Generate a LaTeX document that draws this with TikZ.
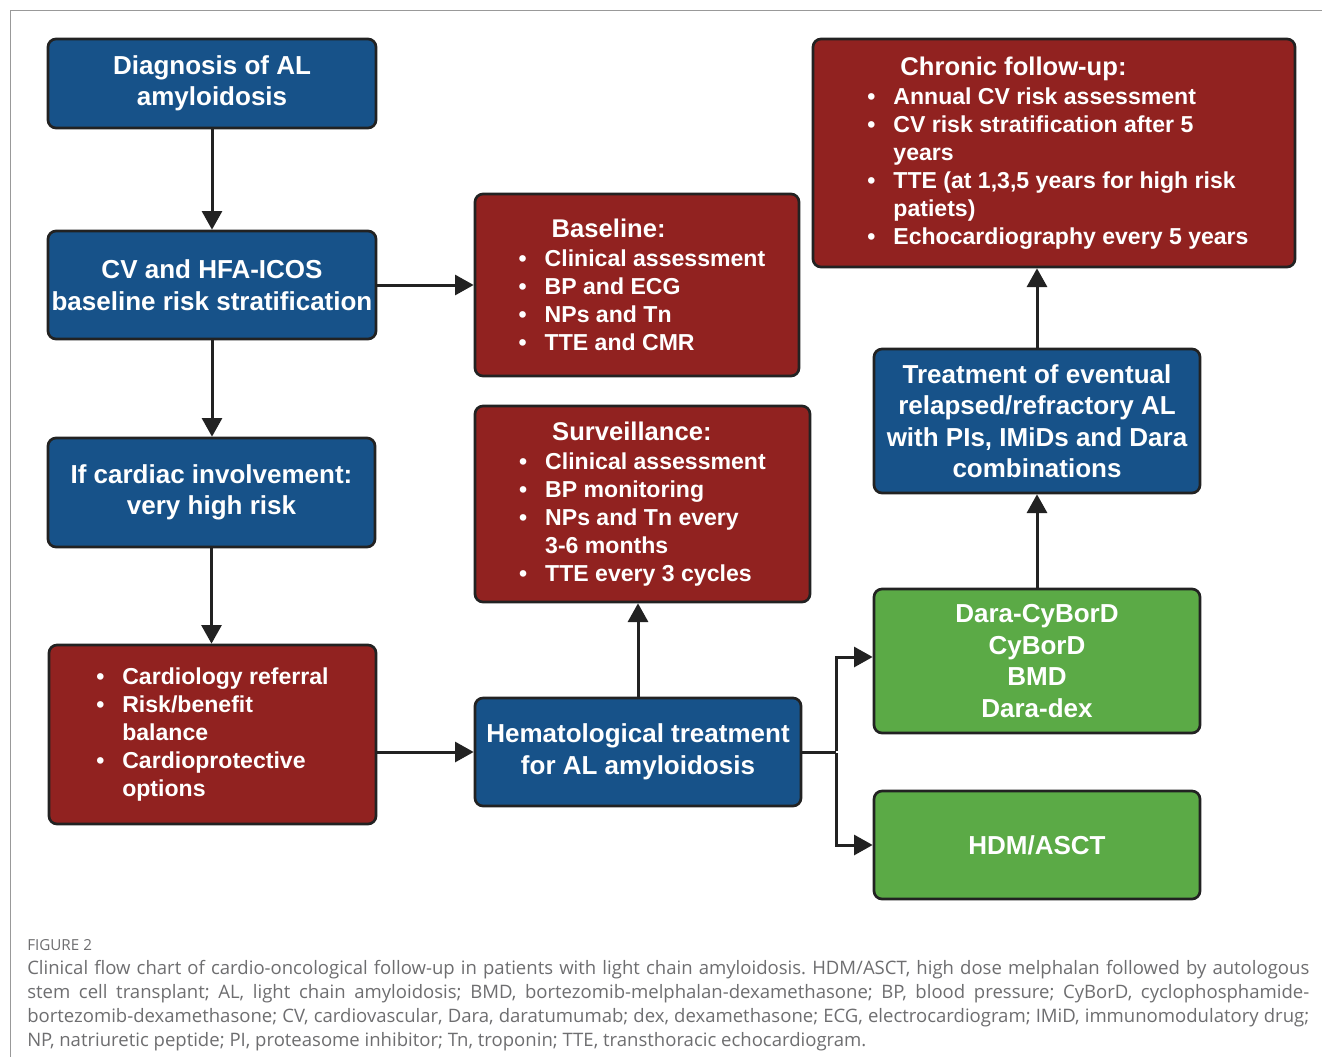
\documentclass[tikz,border=0pt]{standalone}
\usepackage{fontspec}
\setmainfont{Liberation Sans}
\newfontfamily\capfont{Open Sans}
\usetikzlibrary{arrows.meta}
\definecolor{bblue}{HTML}{175289}
\definecolor{bred}{HTML}{912220}
\definecolor{bgreen}{HTML}{5BAA46}
\definecolor{edge}{HTML}{222222}
\definecolor{capgray}{HTML}{6E6E70}
\definecolor{framegray}{HTML}{999999}
\newlength\lpad
\setlength\lpad{0pt}
\newcommand\bitem[1]{\hspace*{\lpad}\makebox[19.5pt][l]{•}#1}
\newcommand\bcont[1]{\hspace*{\lpad}\hspace*{19.5pt}#1}
\newcommand\btitle[1]{\hspace*{\lpad}\hspace*{24.75pt}{\fontsize{19.2}{23}\selectfont #1}}
\tikzset{
  box/.style={draw=edge, line width=2pt, rounded corners=6pt, inner sep=0pt,
    text=white, font=\bfseries\fontsize{19.5}{23.6}\selectfont, align=center},
  bluebox/.style={box, fill=bblue},
  greenbox/.style={box, fill=bgreen},
  redbox/.style={box, fill=bred},
  listbox/.style={redbox, align=left, font=\bfseries\fontsize{17.3}{21}\selectfont},
  lpad/.code={\setlength\lpad{#1}},
  sz/.style 2 args={minimum width=#1*0.75pt, minimum height=#2*0.75pt},
  arr/.style={draw=edge, line width=2.25pt, -{Triangle[length=14pt,width=15pt]}},
  conn/.style={draw=edge, line width=2.25pt},
  captext/.style={anchor=base west, inner sep=0pt, text=capgray, font=\capfont\frenchspacing\fontsize{13.9}{18}\selectfont},
}
\begin{document}
\begin{tikzpicture}[x=0.75pt, y=-0.75pt]
\useasboundingbox (0,0) rectangle (1322,1057);
\fill[white] (0,0) rectangle (1322,1057);
\draw[framegray, line width=0.8pt] (1322,10.5) -- (10.5,10.5) -- (10.5,1057);

% left column
\node[bluebox, sz={328}{89}] (diag) at (212,83.5) {Diagnosis of AL\\amyloidosis};
\node[bluebox, sz={328}{108}] (cv) at (212,285) {CV and HFA-ICOS\\baseline risk stratification};
\node[bluebox, sz={327}{109}] (cardiac) at (211.5,492.5) {If cardiac involvement:\\very high risk};
\node[listbox, sz={327}{179}] (referral) at (212.5,734.5) {\bitem{Cardiology referral}\\\bitem{Risk/benefit}\\\bcont{balance}\\\bitem{Cardioprotective}\\\bcont{options}};

% middle column
\node[listbox, lpad=7.5pt, sz={324}{182}] (baseline) at (637,285) {\btitle{Baseline:}\\[1pt]\bitem{Clinical assessment}\\\bitem{BP and ECG}\\\bitem{NPs and Tn}\\\bitem{TTE and CMR}};
\node[listbox, sz={335}{196}] (surv) at (642.5,504) {\btitle{Surveillance:}\\[1pt]\bitem{Clinical assessment}\\\bitem{BP monitoring}\\\bitem{NPs and Tn every}\\\bcont{3-6 months}\\\bitem{TTE every 3 cycles}};
\node[bluebox, sz={326}{108}] (hemat) at (638,752) {Hematological treatment\\for AL amyloidosis};

% right column
\node[listbox, lpad=6pt, sz={482}{228}] (chronic) at (1054,153) {\btitle{Chronic follow-up:}\\[1pt]\bitem{Annual CV risk assessment}\\\bitem{CV risk stratification after 5}\\\bcont{years}\\\bitem{TTE (at 1,3,5 years for high risk}\\\bcont{patiets)}\\\bitem{Echocardiography every 5 years}};
\node[bluebox, sz={326}{144}] (treat) at (1037,421) {Treatment of eventual\\relapsed/refractory AL\\with PIs, IMiDs and Dara\\combinations};
\node[greenbox, sz={326}{144}] (dara) at (1037,661) {Dara-CyBorD\\CyBorD\\BMD\\Dara-dex};
\node[greenbox, sz={326}{108}] (hdm) at (1037,845) {HDM/ASCT};

% connectors
\draw[arr] (diag.south) -- (cv.north);
\draw[arr] (cv.south) -- (cv.south |- cardiac.north);
\draw[arr] (cardiac.south) -- (cardiac.south |- referral.north);
\draw[arr] (cv.east) -- (baseline.west);
\draw[arr] (referral.east |- hemat.west) -- (hemat.west);
\draw[arr] (hemat.north) -- (hemat.north |- surv.south);
\coordinate (br) at (836,752);
\draw[conn] (hemat.east) -- (br);
\draw[arr] ([yshift=1pt]br) |- ([yshift=3pt]dara.west);
\draw[arr] ([yshift=-1pt]br) |- (hdm.west);
\draw[arr] (dara.north) -- (treat.south);
\draw[arr] (treat.north) -- (treat.north |- chronic.south);

% caption
\node[captext, font=\capfont\fontsize{11.4}{13}\selectfont] (fig) at (27,950) {FIGURE 2};
\node[captext] (c1) at (27,974) {\makebox[961.5pt][s]{Clinical flow chart of cardio-oncological follow-up in patients with light chain amyloidosis. HDM/ASCT, high dose melphalan followed by autologous}};
\node[captext] (c2) at (27,998) {\makebox[961.5pt][s]{stem cell transplant; AL, light chain amyloidosis; BMD, bortezomib-melphalan-dexamethasone; BP, blood pressure; CyBorD, cyclophosphamide-}};
\node[captext] (c3) at (27,1022) {\makebox[961.5pt][s]{bortezomib-dexamethasone; CV, cardiovascular, Dara, daratumumab; dex, dexamethasone; ECG, electrocardiogram; IMiD, immunomodulatory drug;}};
\node[captext] (c4) at (27,1046) {NP, natriuretic peptide; PI, proteasome inhibitor; Tn, troponin; TTE, transthoracic echocardiogram.};
\end{tikzpicture}
\end{document}
